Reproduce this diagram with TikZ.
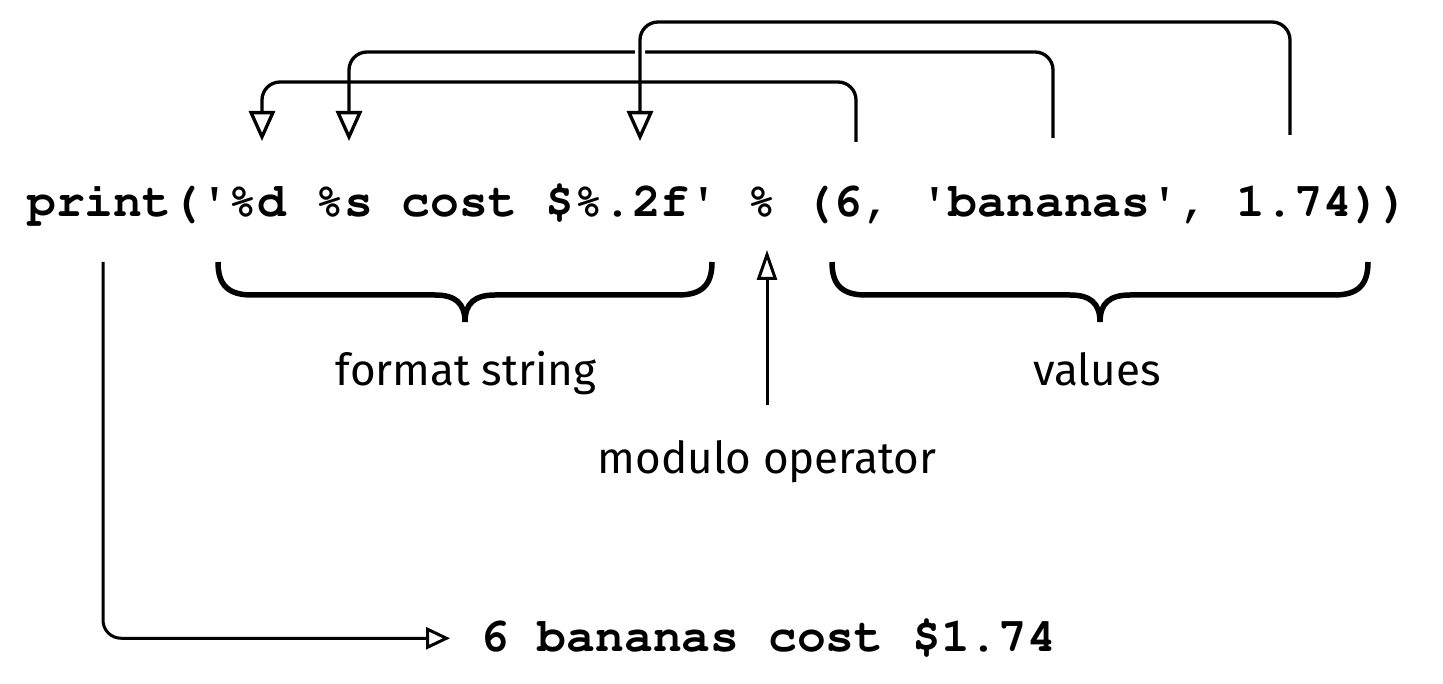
\documentclass[tikz,border=0pt]{standalone}
\usepackage[T1]{fontenc}
\usepackage{textcomp}
\usepackage{fontspec}
\setmainfont{Fira Sans}
\usetikzlibrary{arrows.meta}

\newcommand\q{\textquotesingle}
\tikzset{
 code/.style = {font=\fontencoding{T1}\fontfamily{pcr}\fontseries{b}\fontsize{48}{58}\selectfont, inner sep=0pt},
 note/.style = {font=\fontsize{44}{52}\selectfont, inner sep=0pt},
 link/.style = {line width=3.3pt, rounded corners=18pt, -{Triangle[open, length=30pt, width=26pt]}},
 pointer/.style = {line width=3pt, -{Triangle[open, length=30pt, width=20pt]}},
 result/.style = {line width=3pt, rounded corners=18pt, -{Triangle[open, length=24pt, width=22pt]}, shorten >=30pt},
 curly/.style = {line width=5.5pt},
}

\begin{document}
\begin{tikzpicture}[x=1pt, y=-1pt]
 \useasboundingbox (0,0) rectangle (1443,684);
 \node[code, anchor=base west] (call) at (27,217) {print(\q\%d \%s cost \$\%.2f\q{} \% (6, \q{}bananas\q, 1.74))};
 \node[code, anchor=base west] (out) at (480,651) {6 bananas cost \$1.74};
 \node[note, anchor=base] (fmt) at (466,385) {format string};
 \node[note, anchor=base] (vals) at (1097,385) {values};
 \node[note, anchor=base] (modulo) at (767,473) {modulo operator};
 % ends of the connectors over the code line
 \coordinate (six) at (856,142);
 \coordinate (bananas) at (1053,138);
 \coordinate (price) at (1290,135);
 \coordinate (int spec) at (262,141);
 \coordinate (str spec) at (349,141);
 \coordinate (float spec) at (640,141);
 \coordinate (op) at (767,250);
 \coordinate (print foot) at (103,262);
 \draw[link] (bananas) -- ++(0,-86) -| (str spec);
 \draw[link, preaction={draw=white, line width=10pt, -}] (price) -- ++(0,-113) -| (float spec);
 \draw[link] (six) -- ++(0,-60) -| (int spec);
 % braces under the format string and the values
 \foreach \l/\r in {218/712, 832/1368}{
  \pgfmathsetmacro\m{(\l+\r)/2}
  \draw[curly] (\l,262) .. controls (\l,285) and (\l+10,295) .. (\l+34,295)
   -- (\m-30,295) .. controls (\m-10,295) and (\m,303) .. (\m,322)
   .. controls (\m,303) and (\m+10,295) .. (\m+30,295)
   -- (\r-34,295) .. controls (\r-10,295) and (\r,285) .. (\r,262);
 }
 \draw[pointer] ([yshift=35pt]modulo.north) -- (op);
 \draw[result] (print foot) |- (out);
\end{tikzpicture}
\end{document}
